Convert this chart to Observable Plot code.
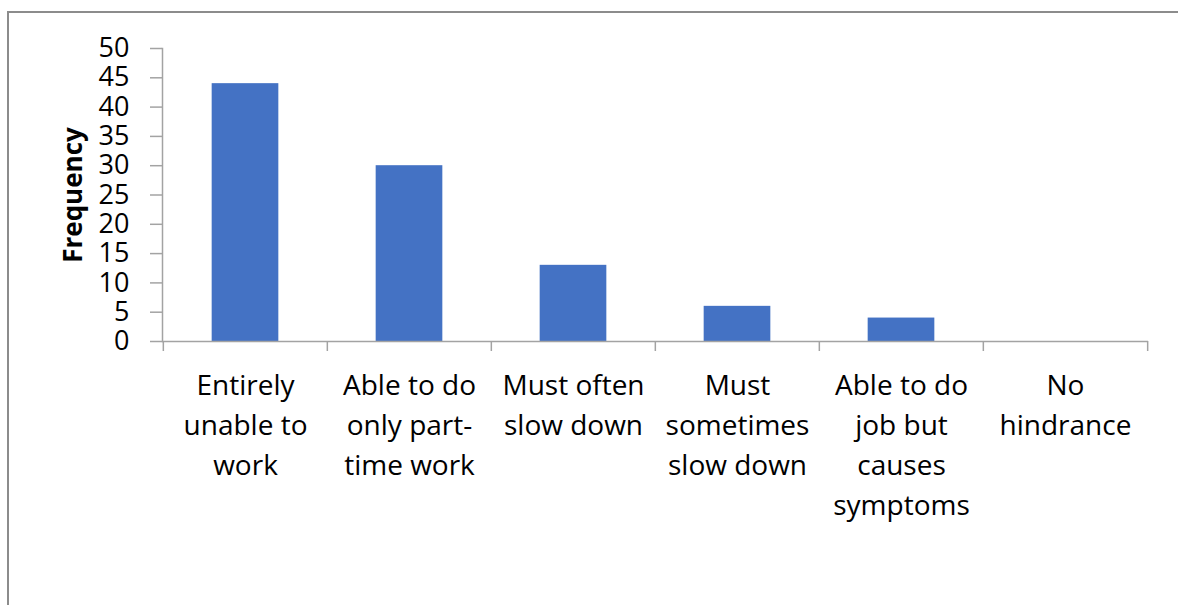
<!DOCTYPE html>
<html>
<head>
<meta charset="utf-8">
<script src="https://cdn.jsdelivr.net/npm/d3@7"></script>
<script src="https://cdn.jsdelivr.net/npm/@observablehq/plot@0.6"></script>
<style>
  html, body { margin: 0; padding: 0; background: #fff; }
  #wrap { position: relative; width: 1178px; height: 605px; overflow: hidden; }
  #border { position: absolute; left: 7px; top: 11px; width: 1300px; height: 700px;
            border-left: 2px solid #8c8c8c; border-top: 2px solid #8c8c8c; pointer-events: none; }
  #chart { position: absolute; left: 0; top: 0; }
</style>
</head>
<body>
<div id="wrap"><div id="chart"></div><div id="border"></div></div>
<script>
const categories = [
  "Entirely unable to work",
  "Able to do only part-time work",
  "Must often slow down",
  "Must sometimes slow down",
  "Able to do job but causes symptoms",
  "No hindrance"
];
const tickLabels = [
  "Entirely\nunable to\nwork",
  "Able to do\nonly part-\ntime work",
  "Must often\nslow down",
  "Must\nsometimes\nslow down",
  "Able to do\njob but\ncauses\nsymptoms",
  "No\nhindrance"
];
const frequency = [44, 30, 13, 6, 4, 0];
const yTicks = [0, 5, 10, 15, 20, 25, 30, 35, 40, 45, 50];
const yLabel = "Frequency";

const data = categories.map((c, i) => ({category: c, value: frequency[i]}));

const W = 1178, H = 605;
const mL = 162, mR = 30, mT = 48, mB = 264;
const step = (W - mL - mR) / categories.length;
const barInset = (step - 67) / 2;
const axisColor = "#a3a3a3";

const plot = Plot.plot({
  width: W,
  height: H,
  marginLeft: mL,
  marginRight: mR,
  marginTop: mT,
  marginBottom: mB,
  style: {fontFamily: "'Open Sans', sans-serif", fontSize: "27px", color: "#000", background: "#fff"},
  x: {type: "band", domain: categories, padding: 0, axis: null},
  y: {domain: [0, 50], axis: null},
  marks: [
    Plot.barY(data, {x: "category", y: "value", fill: "#4472C4", insetLeft: barInset, insetRight: barInset}),
    Plot.ruleY([0], {stroke: axisColor, strokeWidth: 1.5}),
    Plot.frame({anchor: "left", stroke: axisColor, strokeWidth: 1.5}),
    Plot.axisY({ticks: yTicks, tickSize: 12, tickPadding: 21, stroke: axisColor, fill: "#000",
                fontSize: 27, label: null, strokeWidth: 1.5}),
    Plot.axisX({ticks: categories, tickSize: 10, tickFormat: () => "", dx: -step / 2,
                stroke: axisColor, strokeWidth: 1.5, label: null}),
    Plot.axisX({ticks: categories.slice(-1), tickSize: 10, tickFormat: () => "", dx: step / 2,
                stroke: axisColor, strokeWidth: 1.5, label: null}),
    Plot.axisX({ticks: categories, tickSize: 0, tickPadding: 25, lineHeight: 40 / 28,
                tickFormat: (d) => tickLabels[categories.indexOf(d)], fill: "#000",
                fontSize: 28, label: null}),
    Plot.text([yLabel], {frameAnchor: "left", rotate: -90, dx: -89, text: d => d,
                         fontWeight: "bold", fontSize: 26, fill: "#000", textAnchor: "middle"})
  ]
});
document.getElementById("chart").appendChild(plot);
</script>
</body>
</html>
